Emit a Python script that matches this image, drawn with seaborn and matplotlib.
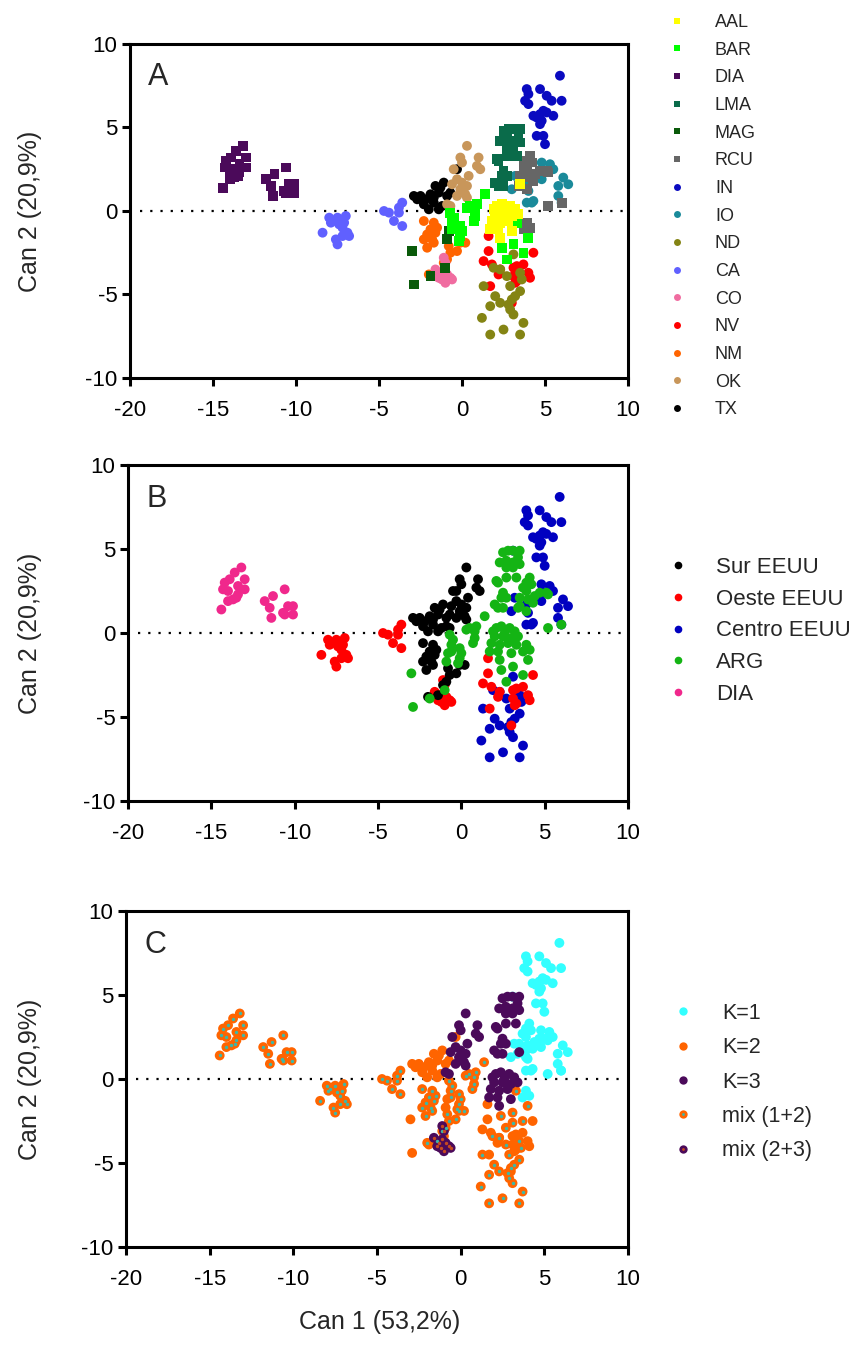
import numpy as np
import pandas as pd
import seaborn as sns
import matplotlib
matplotlib.use('Agg')
from matplotlib import pyplot as plt
from matplotlib.lines import Line2D

# populations, legend order of panel A
pops = ['AAL', 'BAR', 'DIA', 'LMA', 'MAG', 'RCU', 'IN', 'IO', 'ND', 'CA', 'CO', 'NV', 'NM', 'OK', 'TX']

# canonical scores (Can 1, Can 2)
AAL_x = [3.5, 2.1, 2.4, 2.9, 3.2, 2.0, 2.5, 3.0, 3.4, 1.8, 2.3, 2.8, 1.7, 2.2, 3.0, 2.3, 2.6, 1.9]
AAL_y = [1.6, 0.3, 0.4, 0.3, 0.1, -0.2, -0.2, -0.3, -0.2, -0.6, -0.7, -0.6, -1.1, -1.1, -1.2, -1.6, 0.0, 0.1]
BAR_x = [-0.7, -0.5, -0.6, -0.1, 0.0, -0.1, -0.2, -0.6, 0.3, 0.5, 0.8, 0.8, 0.7, 1.4, 3.3, 4.0, 3.1, 3.7, 2.4, 2.7, 0.9]
BAR_y = [-0.1, -0.4, -0.7, -0.9, -1.2, -1.5, -1.8, -1.1, 0.2, 0.3, 0.1, -0.3, -0.6, 1.0, -0.7, -1.6, -2.0, -2.5, -2.2, -2.9, 0.4]
DIA_x = [-13.2, -13.6, -13.9, -14.2, -14.3, -14.0, -13.4, -13.0, -13.0, -13.4, -13.7, -14.0, -14.4, -13.5,
         -10.6, -11.3, -11.8, -11.5, -11.4, -10.7, -10.4, -10.1, -10.1, -10.6]
DIA_y = [3.9, 3.6, 3.2, 3.0, 2.6, 2.5, 2.8, 3.2, 2.6, 2.3, 2.0, 1.9, 1.4, 2.1,
         2.6, 2.2, 1.9, 1.5, 0.9, 1.2, 1.6, 1.6, 1.1, 1.1]
LMA_x = [2.5, 2.8, 3.5, 3.4, 2.3, 2.7, 3.1, 3.5, 2.7, 3.1, 2.7, 2.2, 2.1, 3.3, 2.5, 2.7, 2.4, 2.0, 2.5, 2.2, 3.1]
LMA_y = [4.8, 4.9, 4.9, 4.5, 4.2, 4.3, 4.2, 4.1, 3.9, 3.9, 3.3, 3.0, 3.1, 3.3, 2.4, 2.1, 2.1, 1.7, 1.5, 1.5, 4.9]
MAG_x = [-3.0, -2.9, -0.8, -0.9, -1.0, -1.9]
MAG_y = [-2.4, -4.4, -1.2, -1.7, -3.4, -3.9]
RCU_x = [4.1, 3.9, 3.7, 3.9, 4.2, 3.5, 4.0, 4.4, 4.7, 5.1, 5.2, 4.3, 3.9, 3.4, 5.2, 6.0, 3.9, 3.7, 4.1]
RCU_y = [3.3, 3.0, 2.7, 2.5, 2.9, 2.1, 2.0, 2.2, 2.4, 2.4, 2.3, 1.8, 1.3, 1.5, 0.3, 0.5, -0.7, -1.1, -1.0]
IN_x = [5.9, 3.9, 4.7, 4.0, 5.1, 5.4, 6.0, 3.8, 4.0, 4.3, 4.5, 4.7, 4.9, 5.1, 5.5, 4.8, 4.7, 4.5, 4.9, 5.0, 3.1]
IN_y = [8.1, 7.3, 7.3, 7.0, 6.9, 6.6, 6.6, 6.6, 6.4, 5.7, 5.6, 5.8, 6.0, 5.9, 5.7, 5.4, 5.2, 4.5, 4.5, 4.0, 4.9]
IO_x = [4.8, 5.3, 4.9, 4.8, 6.1, 6.4, 5.8, 5.8, 6.0, 3.0, 4.0, 4.2, 3.9, 4.3, 3.2, 3.9, 5.5]
IO_y = [2.9, 2.8, 2.4, 1.9, 2.0, 1.6, 1.5, 0.9, 0.5, 1.3, 1.2, 0.5, 0.5, 0.6, 2.1, 1.7, 2.5]
ND_x = [3.1, 1.9, 2.3, 2.7, 3.5, 3.6, 1.3, 2.9, 2.0, 2.3, 1.7, 3.0, 3.2, 2.9, 3.1, 3.7, 1.2, 1.7, 2.5, 3.5, 3.5, 2.8]
ND_y = [-2.6, -3.4, -3.5, -3.9, -3.7, -4.1, -4.5, -4.5, -5.1, -5.5, -5.7, -5.3, -5.1, -5.9, -6.2, -6.7, -6.4, -7.4, -7.1, -7.4, -4.8, -5.6]
CA_x = [-8.0, -7.8, -7.5, -7.0, -7.4, -7.2, -6.9, -6.8, -7.2, -7.6, -7.5, -8.4, -7.9, -7.1,
        -4.7, -4.4, -4.1, -3.8, -3.6, -3.6, -3.8]
CA_y = [-0.4, -0.6, -0.4, -0.3, -0.8, -1.0, -1.3, -1.5, -1.5, -1.7, -2.0, -1.3, -0.7, -0.7,
        0.0, -0.1, -0.6, 0.2, 0.5, -0.9, -0.1]
CO_x = [-1.1, -1.0, -1.6, -1.3, -0.9, -0.7, -1.2, -1.0, -0.6, -1.4, -1.1]
CO_y = [-2.8, -3.1, -3.5, -3.8, -3.8, -4.0, -4.1, -4.3, -4.1, -4.0, -3.6]
NV_x = [1.6, 1.6, 1.3, 1.8, 2.2, 3.1, 3.3, 3.7, 3.1, 3.3, 4.0, 4.1, 4.3, 1.7, 3.0, 3.2, 2.3]
NV_y = [-1.5, -2.4, -3.0, -3.2, -3.8, -3.4, -3.3, -3.2, -3.9, -4.2, -3.7, -4.0, -2.5, -4.5, -5.5, -4.3, -3.5]
NM_x = [-2.3, -1.7, -1.9, -2.1, -1.6, -2.3, -1.8, -2.1, -1.7, -0.1, 0.2, -0.8, -0.7, -0.9, -0.3, -1.1, -2.0, -1.4, -1.5]
NM_y = [-0.6, -0.7, -1.1, -1.4, -1.3, -1.7, -1.7, -2.2, -1.9, -1.9, -1.9, -2.1, -2.5, -2.9, -2.4, -3.1, -3.8, -3.7, -1.0]
OK_x = [0.3, -0.1, 0.0, -0.5, 1.0, 0.9, 1.1, -0.3, 0.0, 0.3, -0.1, 0.2, -0.3, 0.3, -0.6, -0.9, -0.7, 0.4]
OK_y = [3.9, 3.2, 2.9, 2.5, 3.2, 2.7, 2.5, 1.9, 1.7, 1.5, 1.3, 1.0, 0.9, 0.8, 1.6, 0.4, 0.3, 2.1]
TX_x = [-2.9, -2.5, -2.2, -1.9, -1.7, -1.4, -1.3, -1.1, -1.6, -2.3, -2.0, -1.7, -0.7, -0.3, -1.4, -0.9, -2.7, -1.2]
TX_y = [0.9, 0.9, 0.7, 1.0, 0.5, 0.1, 1.4, 1.7, 1.5, 0.4, 0.1, 0.8, 1.1, 2.5, 1.1, 0.9, 0.7, 0.3]

pop_colors = ['#ffff00', '#00ff00', '#4b0a5a', '#0a6b4a', '#0a5a0a', '#666666', '#0a0ac0', '#1a8a9a',
              '#848414', '#6060ff', '#f06ca0', '#ff0000', '#ff6400', '#c8965a', '#000000']
square_pops = ['AAL', 'BAR', 'DIA', 'LMA', 'MAG', 'RCU']

regions = ['Sur EEUU', 'Oeste EEUU', 'Centro EEUU', 'ARG', 'DIA']
region_colors = ['#000000', '#ff0000', '#0000c0', '#14b414', '#f0288c']
region_of = {'TX': 'Sur EEUU', 'OK': 'Sur EEUU', 'NM': 'Sur EEUU',
             'CA': 'Oeste EEUU', 'CO': 'Oeste EEUU', 'NV': 'Oeste EEUU',
             'IN': 'Centro EEUU', 'IO': 'Centro EEUU', 'ND': 'Centro EEUU',
             'AAL': 'ARG', 'BAR': 'ARG', 'LMA': 'ARG', 'MAG': 'ARG', 'RCU': 'ARG', 'DIA': 'DIA'}

clusters = ['K=1', 'K=2', 'K=3', 'mix (1+2)', 'mix (2+3)']
cluster_colors = ['#33ffff', '#ff6400', '#4b0a5a', '#ff6400', '#4b0a5a']
cluster_dots = {'mix (1+2)': '#3cb8a8', 'mix (2+3)': '#c84a1e'}
cluster_of = {'IN': 'K=1', 'IO': 'K=1', 'RCU': 'K=1',
              'LMA': 'K=3', 'AAL': 'K=3', 'OK': 'K=3',
              'TX': 'K=2', 'NV': 'K=2', 'MAG': 'K=2',
              'DIA': 'mix (1+2)', 'CA': 'mix (1+2)', 'NM': 'mix (1+2)', 'BAR': 'mix (1+2)', 'ND': 'mix (1+2)',
              'CO': 'mix (2+3)'}

coords = {p: (globals()[p + '_x'], globals()[p + '_y']) for p in pops}
frames = []
for p in pops:
    xs, ys = coords[p]
    frames.append(pd.DataFrame({'x': xs, 'y': ys, 'pop': p}))
df = pd.concat(frames, ignore_index=True)
df['region'] = df['pop'].map(region_of)
df['cluster'] = df['pop'].map(cluster_of)

sns.set_style('ticks')
plt.rcParams['font.family'] = ['Liberation Sans', 'DejaVu Sans']
plt.rcParams['axes.unicode_minus'] = False

fig = plt.figure(figsize=(8.57, 13.49), dpi=100)
axA = fig.add_axes([0.1517, 0.7198, 0.5811, 0.2476])
axB = fig.add_axes([0.1494, 0.4062, 0.5834, 0.2491])
axC = fig.add_axes([0.1470, 0.0756, 0.5858, 0.2491])

MS = 50

# panel A: populations
orderA = pops[::-1]
dA = df.assign(o=df['pop'].map({p: i for i, p in enumerate(orderA)})).sort_values('o', kind='stable')
sns.scatterplot(data=dA, x='x', y='y', hue='pop', style='pop', hue_order=pops, style_order=pops,
                palette=dict(zip(pops, pop_colors)),
                markers={p: ('s' if p in square_pops else 'o') for p in pops},
                s=MS, linewidth=0, legend=False, ax=axA)

# panel B: regions
orderB = ['Centro EEUU', 'Oeste EEUU', 'Sur EEUU', 'ARG', 'DIA']
dB = df.assign(o=df['region'].map({r: i for i, r in enumerate(orderB)})).sort_values('o', kind='stable')
sns.scatterplot(data=dB, x='x', y='y', hue='region', hue_order=regions,
                palette=dict(zip(regions, region_colors)), s=MS, linewidth=0, legend=False, ax=axB)

# panel C: structure clusters
orderC = ['K=1', 'K=2', 'mix (1+2)', 'K=3', 'mix (2+3)']
dC = df.assign(o=df['cluster'].map({c: i for i, c in enumerate(orderC)})).sort_values('o', kind='stable')
sns.scatterplot(data=dC, x='x', y='y', hue='cluster', hue_order=clusters,
                palette=dict(zip(clusters, cluster_colors)), s=MS, linewidth=0, legend=False, ax=axC)
for c, col in cluster_dots.items():
    sns.scatterplot(data=df[df['cluster'] == c], x='x', y='y', color=col, marker='o',
                    s=6, linewidth=0, legend=False, ax=axC)

for ax, letter in zip([axA, axB, axC], ['A', 'B', 'C']):
    ax.set_xlim(-20, 10)
    ax.set_ylim(-10, 10)
    ax.set_xticks(range(-20, 11, 5))
    ax.set_yticks(range(-10, 11, 5))
    ax.axhline(0, xmin=0.02, xmax=0.99, color='black', lw=1.6, ls=(0, (1, 3.6)), zorder=0)
    for sp in ax.spines.values():
        sp.set_linewidth(2.2)
        sp.set_color('black')
    ax.tick_params(direction='out', length=6, width=2.2, labelsize=16, colors='black')
    ax.tick_params(axis='x', pad=10)
    ax.tick_params(axis='y', pad=3)
    ax.set_xlabel('')
    ax.set_ylabel('')
    ax.text(-18.9, 8.0, letter, fontsize=22, ha='left', va='center')
    pos = ax.get_position()
    fig.text(0.035, pos.y0 + pos.height / 2, 'Can 2 (20,9%)', rotation=90,
             ha='center', va='center', fontsize=18)

fig.text(0.443, 1 - 1322 / 1349, 'Can 1 (53,2%)', ha='center', va='center', fontsize=18)

# legends
hA = [Line2D([], [], ls='none', marker=('s' if p in square_pops else 'o'), color=c, markersize=5,
             markeredgewidth=0) for p, c in zip(pops, pop_colors)]
fig.legend(hA, pops, loc='upper left', bbox_to_anchor=(0.7795, 0.9896), frameon=False,
           fontsize=13, handlelength=1, handletextpad=1.6, labelspacing=0.59, borderpad=0, borderaxespad=0)

hB = [Line2D([], [], ls='none', marker='o', color=c, markersize=5.5, markeredgewidth=0) for c in region_colors]
fig.legend(hB, regions, loc='upper left', bbox_to_anchor=(0.7783, 0.5870), frameon=False,
           fontsize=16, handlelength=1, handletextpad=1.2, labelspacing=0.48, borderpad=0, borderaxespad=0)

hC = []
for c, col in zip(clusters, cluster_colors):
    base = Line2D([], [], ls='none', marker='o', color=col, markersize=6, markeredgewidth=0)
    if c in cluster_dots:
        dot = Line2D([], [], ls='none', marker='o', color=cluster_dots[c], markersize=2, markeredgewidth=0)
        hC.append((base, dot))
    else:
        hC.append(base)
fig.legend(hC, clusters, loc='upper left', bbox_to_anchor=(0.7848, 0.2565), frameon=False,
           fontsize=15.5, handlelength=1, handletextpad=1.3, labelspacing=0.62, borderpad=0, borderaxespad=0)

fig.savefig('out.png', dpi=100)
